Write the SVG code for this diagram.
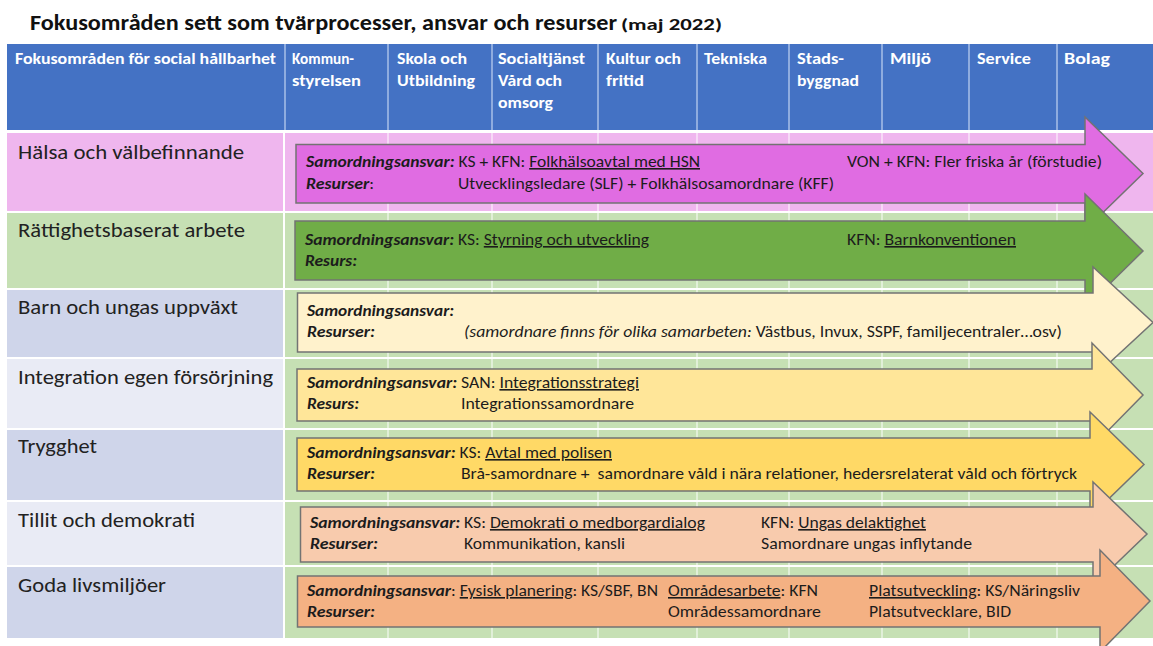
<svg xmlns="http://www.w3.org/2000/svg" width="1153" height="646" viewBox="0 0 1153 646">
<style>
text{font-family:Carlito,Lato,"Liberation Sans",sans-serif;fill:#1c1c1c}
.title{font-size:23px;font-weight:bold;fill:#111}
.hd{font-size:16px;font-weight:bold;fill:#fff}
.lab{font-size:20px;fill:#222}
.t{font-size:16px}
.bi{font-weight:bold;font-style:italic}
.i{font-style:italic}
.u{text-decoration:underline}
.hl{stroke:#a9c1e8;stroke-width:1.5}
.gl{stroke:#fff;stroke-width:1.3;opacity:0.75}
.arr{stroke:#737373;stroke-width:1.5}
</style>
<rect width="1153" height="646" fill="#fff"/>
<text class="title" x="30" y="30" textLength="587" lengthAdjust="spacingAndGlyphs">Fokusområden sett som tvärprocesser, ansvar och resurser</text>
<text class="title" x="621" y="30" style="font-size:15px" textLength="101" lengthAdjust="spacingAndGlyphs">(maj 2022)</text>
<g id="table">
<rect x="7" y="44" width="1146" height="86" fill="#4472c4"/>
<g class="hl">
<line x1="285" y1="44" x2="285" y2="130"/><line x1="388" y1="44" x2="388" y2="130"/><line x1="492" y1="44" x2="492" y2="130"/><line x1="598" y1="44" x2="598" y2="130"/><line x1="697" y1="44" x2="697" y2="130"/><line x1="789" y1="44" x2="789" y2="130"/><line x1="882" y1="44" x2="882" y2="130"/><line x1="969" y1="44" x2="969" y2="130"/><line x1="1057" y1="44" x2="1057" y2="130"/>
</g>
<text class="hd" x="15" y="64" textLength="261" lengthAdjust="spacingAndGlyphs">Fokusområden för social hållbarhet</text>
<text class="hd" x="292" y="64" textLength="62" lengthAdjust="spacingAndGlyphs">Kommun-</text><text class="hd" x="292" y="86" textLength="69" lengthAdjust="spacingAndGlyphs">styrelsen</text>
<text class="hd" x="397" y="64" textLength="70" lengthAdjust="spacingAndGlyphs">Skola och</text><text class="hd" x="397" y="86" textLength="78" lengthAdjust="spacingAndGlyphs">Utbildning</text>
<text class="hd" x="498" y="64" textLength="87" lengthAdjust="spacingAndGlyphs">Socialtjänst</text><text class="hd" x="498" y="86" textLength="64" lengthAdjust="spacingAndGlyphs">Vård och</text><text class="hd" x="498" y="108" textLength="55" lengthAdjust="spacingAndGlyphs">omsorg</text>
<text class="hd" x="606" y="64" textLength="75" lengthAdjust="spacingAndGlyphs">Kultur och</text><text class="hd" x="606" y="86" textLength="38" lengthAdjust="spacingAndGlyphs">fritid</text>
<text class="hd" x="704" y="64" textLength="63" lengthAdjust="spacingAndGlyphs">Tekniska</text>
<text class="hd" x="797" y="64" textLength="47" lengthAdjust="spacingAndGlyphs">Stads-</text><text class="hd" x="797" y="86" textLength="62" lengthAdjust="spacingAndGlyphs">byggnad</text>
<text class="hd" x="890" y="64" textLength="41" lengthAdjust="spacingAndGlyphs">Miljö</text>
<text class="hd" x="977" y="64" textLength="54" lengthAdjust="spacingAndGlyphs">Service</text>
<text class="hd" x="1064" y="64" textLength="46" lengthAdjust="spacingAndGlyphs">Bolag</text>
<rect x="7" y="133" width="1146" height="78" fill="#efb6ee"/>
<rect x="7" y="213" width="1146" height="75" fill="#c6e0b4"/>
<rect x="285" y="290" width="868" height="67" fill="#c6e0b4"/>
<rect x="285" y="359" width="868" height="69" fill="#c6e0b4"/>
<rect x="285" y="430" width="868" height="70" fill="#c6e0b4"/>
<rect x="285" y="502" width="868" height="63" fill="#c6e0b4"/>
<rect x="285" y="567" width="868" height="71" fill="#c6e0b4"/>
<rect x="7" y="290" width="276" height="67" fill="#cfd5ea"/>
<rect x="7" y="359" width="276" height="69" fill="#e9ebf5"/>
<rect x="7" y="430" width="276" height="70" fill="#cfd5ea"/>
<rect x="7" y="502" width="276" height="63" fill="#e9ebf5"/>
<rect x="7" y="567" width="276" height="71" fill="#cfd5ea"/>
<line x1="284" y1="133" x2="284" y2="638" stroke="#fff" stroke-width="2"/>
<g class="gl">
<line x1="388" y1="133" x2="388" y2="638"/><line x1="492" y1="133" x2="492" y2="638"/><line x1="598" y1="133" x2="598" y2="638"/><line x1="697" y1="133" x2="697" y2="638"/><line x1="789" y1="133" x2="789" y2="638"/><line x1="882" y1="133" x2="882" y2="638"/><line x1="969" y1="133" x2="969" y2="638"/><line x1="1057" y1="133" x2="1057" y2="638"/>
</g>
</g>
<g id="connectors"></g>
<g id="row-halsa">
<text class="lab" x="18" y="159" textLength="226" lengthAdjust="spacingAndGlyphs">Hälsa och välbefinnande</text>
<path class="arr" fill="#e06ce2" d="M296,144.5 H1085 V117 L1143,173.5 L1085,230 V203 H296 Z"/>
<text class="t" x="306" y="167" textLength="394" lengthAdjust="spacingAndGlyphs"><tspan class="bi">Samordningsansvar:</tspan> KS + KFN: <tspan class="u">Folkhälsoavtal med HSN</tspan></text>
<text class="t" x="847" y="167" textLength="255" lengthAdjust="spacingAndGlyphs">VON + KFN: Fler friska år (förstudie)</text>
<text class="t" x="306" y="189" textLength="68" lengthAdjust="spacingAndGlyphs"><tspan class="bi">Resurser</tspan>:</text>
<text class="t" x="458" y="189" textLength="376" lengthAdjust="spacingAndGlyphs">Utvecklingsledare (SLF) + Folkhälsosamordnare (KFF)</text>
</g>
<g id="row-rattighet">
<text class="lab" x="18" y="237" textLength="227" lengthAdjust="spacingAndGlyphs">Rättighetsbaserat arbete</text>
<path class="arr" fill="#70ad47" stroke="#55853a" d="M295,221 H1085 V194 L1143,251 L1085,308 V280 H295 Z"/>
<text class="t" x="305" y="245" textLength="344" lengthAdjust="spacingAndGlyphs"><tspan class="bi">Samordningsansvar:</tspan> KS: <tspan class="u">Styrning och utveckling</tspan></text>
<text class="t" x="847" y="245" textLength="169" lengthAdjust="spacingAndGlyphs">KFN: <tspan class="u">Barnkonventionen</tspan></text>
<text class="t bi" x="305" y="266" textLength="52" lengthAdjust="spacingAndGlyphs">Resurs:</text>
</g>
<g id="row-barn">
<text class="lab" x="18" y="314" textLength="220" lengthAdjust="spacingAndGlyphs">Barn och ungas uppväxt</text>
<path class="arr" fill="#fff2cc" d="M297.5,293 H1093 V267 L1153,322.5 L1093,378 V352 H297.5 Z"/>
<text class="t bi" x="307" y="316" textLength="147" lengthAdjust="spacingAndGlyphs">Samordningsansvar:</text>
<text class="t bi" x="307" y="337" textLength="68" lengthAdjust="spacingAndGlyphs">Resurser:</text>
<text class="t" x="464" y="337" textLength="598" lengthAdjust="spacingAndGlyphs"><tspan class="i">(samordnare finns för olika samarbeten:</tspan> Västbus, Invux, SSPF, familjecentraler…osv)</text>
</g>
<g id="row-integration">
<text class="lab" x="18" y="384" textLength="255" lengthAdjust="spacingAndGlyphs">Integration egen försörjning</text>
<path class="arr" fill="#ffe699" d="M297,369 H1092 V343 L1143,395 L1092,447 V421 H297 Z"/>
<text class="t" x="307" y="388" textLength="332" lengthAdjust="spacingAndGlyphs"><tspan class="bi">Samordningsansvar:</tspan> SAN: <tspan class="u">Integrationsstrategi</tspan></text>
<text class="t bi" x="307" y="409" textLength="52" lengthAdjust="spacingAndGlyphs">Resurs:</text>
<text class="t" x="461" y="409" textLength="173" lengthAdjust="spacingAndGlyphs">Integrationssamordnare</text>
</g>
<g id="row-trygghet">
<text class="lab" x="18" y="453" textLength="79" lengthAdjust="spacingAndGlyphs">Trygghet</text>
<path class="arr" fill="#ffd966" d="M297,438 H1090 V412 L1144,464.5 L1090,517 V491 H297 Z"/>
<text class="t" x="307" y="458" textLength="305" lengthAdjust="spacingAndGlyphs"><tspan class="bi">Samordningsansvar:</tspan> KS: <tspan class="u">Avtal med polisen</tspan></text>
<text class="t bi" x="307" y="479" textLength="68" lengthAdjust="spacingAndGlyphs">Resurser:</text>
<text class="t" x="461" y="479" textLength="616" lengthAdjust="spacingAndGlyphs">Brå-samordnare +&#160; samordnare våld i nära relationer, hedersrelaterat våld och förtryck</text>
</g>
<g id="row-tillit">
<text class="lab" x="18" y="527" textLength="177" lengthAdjust="spacingAndGlyphs">Tillit och demokrati</text>
<path class="arr" fill="#f8cbad" d="M300.5,507 H1093 V482 L1147,534 L1093,586 V562 H300.5 Z"/>
<text class="t" x="310" y="528" textLength="395" lengthAdjust="spacingAndGlyphs"><tspan class="bi">Samordningsansvar:</tspan> KS: <tspan class="u">Demokrati o medborgardialog</tspan></text>
<text class="t" x="761" y="528" textLength="165" lengthAdjust="spacingAndGlyphs">KFN: <tspan class="u">Ungas delaktighet</tspan></text>
<text class="t bi" x="310" y="549" textLength="68" lengthAdjust="spacingAndGlyphs">Resurser:</text>
<text class="t" x="464" y="549" textLength="161" lengthAdjust="spacingAndGlyphs">Kommunikation, kansli</text>
<text class="t" x="761" y="549" textLength="211" lengthAdjust="spacingAndGlyphs">Samordnare ungas inflytande</text>
</g>
<g id="row-goda">
<text class="lab" x="18" y="592" textLength="148" lengthAdjust="spacingAndGlyphs">Goda livsmiljöer</text>
<path class="arr" fill="#f4b183" d="M297.5,576 H1100 V550 L1150,601 L1100,652 V627 H297.5 Z"/>
<text class="t" x="307" y="596" textLength="351" lengthAdjust="spacingAndGlyphs"><tspan class="bi">Samordningsansvar</tspan>: <tspan class="u">Fysisk planering</tspan>: KS/SBF, BN</text>
<text class="t" x="668" y="596" textLength="150" lengthAdjust="spacingAndGlyphs"><tspan class="u">Områdesarbete</tspan>: KFN</text>
<text class="t" x="869" y="596" textLength="211" lengthAdjust="spacingAndGlyphs"><tspan class="u">Platsutveckling</tspan>: KS/Näringsliv</text>
<text class="t bi" x="307" y="617" textLength="68" lengthAdjust="spacingAndGlyphs">Resurser:</text>
<text class="t" x="668" y="617" textLength="153" lengthAdjust="spacingAndGlyphs">Områdessamordnare</text>
<text class="t" x="869" y="617" textLength="142" lengthAdjust="spacingAndGlyphs">Platsutvecklare, BID</text>
</g>
</svg>
